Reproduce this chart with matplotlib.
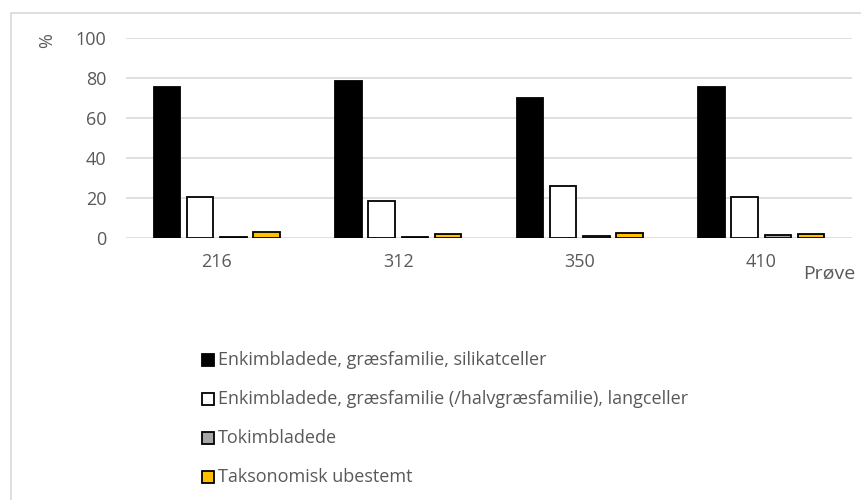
import matplotlib
matplotlib.use("Agg")
import matplotlib.pyplot as plt
import numpy as np
from matplotlib.patches import Rectangle

# sample numbers on the x axis
samples = ["216", "312", "350", "410"]

# percentage of each phytolith group per sample
series_names = [
    "Enkimbladede, græsfamilie, silikatceller",
    "Enkimbladede, græsfamilie (/halvgræsfamilie), langceller",
    "Tokimbladede",
    "Taksonomisk ubestemt",
]
silikat = [75.5, 78.7, 70.0, 75.5]
langceller = [20.7, 18.5, 26.0, 20.7]
tokimbladede = [0.5, 0.5, 1.0, 1.5]
ubestemt = [3.0, 2.0, 2.5, 2.0]

colors = ["#000000", "#ffffff", "#a6a6a6", "#ffc000"]
text_color = "#595959"

plt.rcParams["font.family"] = ["Open Sans", "DejaVu Sans"]

W, H = 862, 500
fig = plt.figure(figsize=(W / 100, H / 100), dpi=100)
ax = fig.add_axes([126 / W, 262 / H, 726 / W, 200 / H])

x = np.arange(len(samples))
slot = 0.183
width = 0.146
for i, (vals, col) in enumerate(zip([silikat, langceller, tokimbladede, ubestemt], colors)):
    ax.bar(x + (i - 1.5) * slot, vals, width, color=col, edgecolor="black",
           linewidth=1.3, zorder=3)

ax.set_xlim(-0.5, len(samples) - 0.5)
ax.set_ylim(0, 100)
ax.set_yticks(range(0, 101, 20))
ax.set_xticks(x)
ax.set_xticklabels(samples)
ax.grid(axis="y", color="#d9d9d9", linewidth=1.2, zorder=0)
for s in ax.spines.values():
    s.set_visible(False)
ax.tick_params(axis="both", length=0, colors=text_color, labelsize=13)
ax.tick_params(axis="x", pad=11)
ax.tick_params(axis="y", pad=14)

fig.text(47 / W, 1 - 41 / H, "%", rotation=90, ha="center", va="center",
         color=text_color, fontsize=13)
fig.text(855 / W, 1 - 274 / H, "Prøve", ha="right", va="center",
         color=text_color, fontsize=14)

# legend: square swatch + label, one row per series
row_y = [360, 399, 438, 477]
box = 12
for name, col, yy in zip(series_names, colors, row_y):
    fig.patches.append(Rectangle((202 / W, 1 - (yy + box / 2) / H), box / W, box / H,
                                 transform=fig.transFigure, facecolor=col,
                                 edgecolor="black", linewidth=1.3))
    fig.text(218 / W, 1 - yy / H, name, ha="left", va="center",
             color=text_color, fontsize=13)

# light outer frame of the chart area
fig.patches.append(Rectangle((11 / W, -0.1), 1.2, 1 - 13 / H + 0.1,
                             transform=fig.transFigure, fill=False,
                             edgecolor="#d9d9d9", linewidth=1.2))

fig.savefig("out.png", dpi=100)
